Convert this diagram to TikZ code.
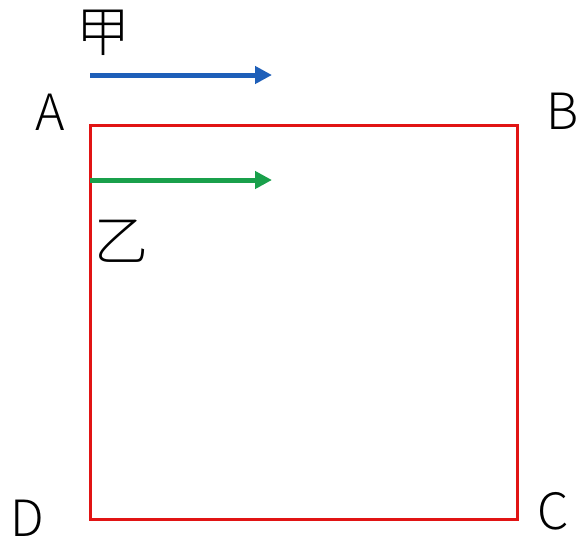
\documentclass[tikz,border=0pt]{standalone}
\usepackage{fontspec}
\setmainfont{Noto Sans CJK SC}[UprightFont={* Light}]
\usetikzlibrary{arrows.meta}
\definecolor{sqred}{RGB}{225,20,20}
\definecolor{arrblue}{RGB}{30,95,185}
\definecolor{arrgreen}{RGB}{25,160,75}
\begin{document}
\begin{tikzpicture}[x=1pt,y=-1pt,
  lbl/.style={font=\fontsize{50}{50}\selectfont, inner sep=0pt, anchor=center},
  cjk/.style={font=\fontsize{54}{54}\selectfont, inner sep=0pt, anchor=center},
  mov/.style={line width=5pt, -{Triangle[length=17pt,width=17pt]}}]
\useasboundingbox (0,0) rectangle (580,542);
\fill[white] (0,0) rectangle (580,542);
\coordinate (A) at (90,125);
\coordinate (B) at (517,125);
\coordinate (C) at (517,519);
\coordinate (D) at (90,519);
\draw[sqred, line width=3pt] (A) -- (B) -- (C) -- (D) -- cycle;
\coordinate (b1) at (90,75);
\coordinate (b2) at (272,75);
\coordinate (g1) at (90,180);
\coordinate (g2) at (272,180);
\draw[mov, arrblue] (b1) -- (b2);
\draw[mov, arrgreen] (g1) -- (g2);
\node[lbl] (lA) at (50,112) {A};
\node[lbl] (lB) at (563,111) {B};
\node[lbl] (lC) at (553,511) {C};
\node[lbl] (lD) at (27,518) {D};
\node[cjk] (jia) at (103,33) {甲};
\node[cjk] (yi) at (121,241) {乙};
\end{tikzpicture}
\end{document}
